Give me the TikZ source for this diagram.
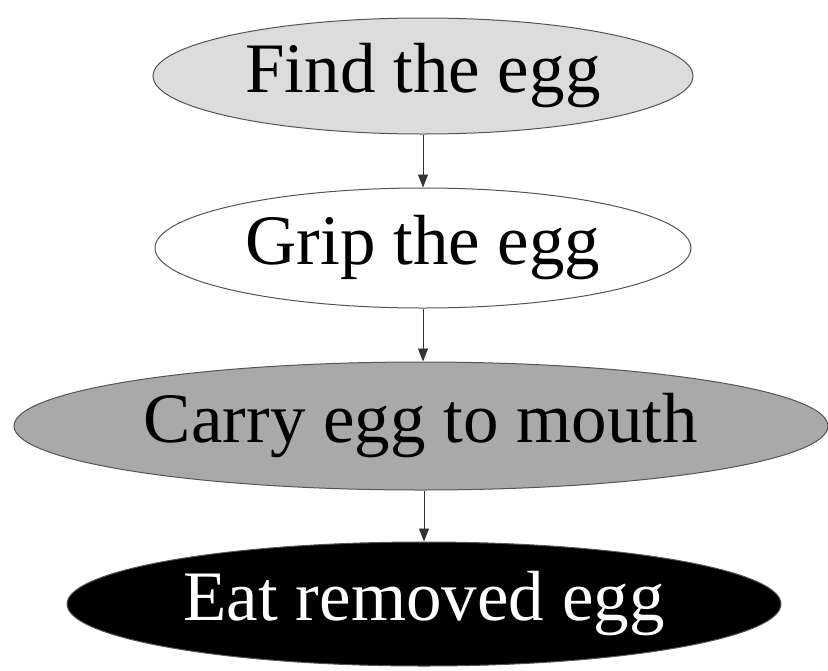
\documentclass[tikz,border=0pt]{standalone}
\usepackage{fontspec}
\setmainfont{Liberation Serif}
\usetikzlibrary{shapes.geometric,arrows.meta}
\definecolor{findfill}{HTML}{DCDCDC}
\definecolor{carryfill}{HTML}{A9A9A9}
\definecolor{edgegray}{HTML}{555555}
\begin{document}
\begin{tikzpicture}[x=1pt,y=-1pt,
  stage/.style={ellipse, draw=edgegray, line width=1pt, inner sep=0pt,
    font=\fontsize{71}{71}\selectfont},
  flow/.style={draw=black!80, line width=0.9pt, -{Triangle[length=13pt,width=10pt]}}]
\useasboundingbox (0,0) rectangle (828,670);
\fill[white] (0,0) rectangle (828,670);
\node[stage, fill=findfill, minimum width=540pt, minimum height=116pt] (find) at (423,76) {Find the egg};
\node[stage, fill=white, minimum width=536pt, minimum height=120pt] (grip) at (423,248) {Grip the egg};
\node[stage, fill=carryfill, minimum width=814pt, minimum height=128pt] (carry) at (421,426) {Carry egg to mouth};
\node[stage, fill=black, text=white, minimum width=714pt, minimum height=124pt] (eat) at (424,604) {Eat removed egg};
\draw[flow] (find.south -| grip.north) -- (grip.north);
\draw[flow] (grip.south) -- (grip.south |- carry.north);
\draw[flow] (carry.south -| eat.north) -- (eat.north);
\end{tikzpicture}
\end{document}
